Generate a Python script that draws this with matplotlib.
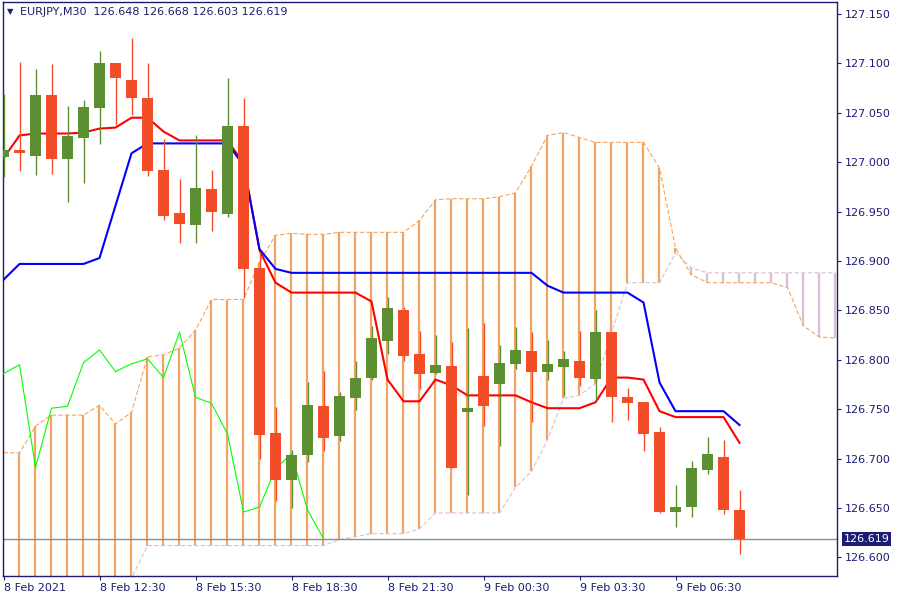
import matplotlib
matplotlib.use("Agg")
import matplotlib.pyplot as plt
import matplotlib.transforms as mtransforms
import numpy as np

# ---------------- data ----------------
opens = [127.005, 127.012, 127.006, 127.068, 127.003, 127.024, 127.055, 127.100, 127.083, 127.065,
         126.992, 126.949, 126.936, 126.973, 126.948, 127.037, 126.893, 126.726, 126.678, 126.704,
         126.753, 126.723, 126.761, 126.782, 126.819, 126.850, 126.806, 126.787, 126.794, 126.747,
         126.784, 126.776, 126.796, 126.809, 126.788, 126.793, 126.799, 126.781, 126.828, 126.762,
         126.757, 126.727, 126.646, 126.651, 126.688, 126.702, 126.648]
highs = [127.069, 127.101, 127.094, 127.099, 127.057, 127.063, 127.113, 127.100, 127.126, 127.100,
         127.023, 126.983, 127.028, 126.992, 127.085, 127.065, 126.909, 126.752, 126.709, 126.778,
         126.789, 126.767, 126.799, 126.834, 126.864, 126.853, 126.829, 126.825, 126.818, 126.832,
         126.837, 126.815, 126.833, 126.828, 126.820, 126.809, 126.829, 126.850, 126.828, 126.771,
         126.757, 126.732, 126.673, 126.698, 126.722, 126.719, 126.668]
lows = [126.985, 126.991, 126.987, 126.988, 126.960, 126.979, 127.018, 127.038, 127.048, 126.986,
        126.941, 126.918, 126.918, 126.930, 126.945, 126.863, 126.700, 126.657, 126.650, 126.697,
        126.708, 126.718, 126.749, 126.780, 126.806, 126.799, 126.770, 126.786, 126.690, 126.663,
        126.733, 126.713, 126.791, 126.737, 126.780, 126.763, 126.773, 126.759, 126.737, 126.739,
        126.708, 126.645, 126.631, 126.641, 126.684, 126.644, 126.603]
closes = [127.012, 127.009, 127.068, 127.003, 127.026, 127.056, 127.100, 127.085, 127.065, 126.991,
          126.946, 126.937, 126.974, 126.950, 127.037, 126.892, 126.724, 126.678, 126.704, 126.754,
          126.721, 126.763, 126.782, 126.822, 126.852, 126.804, 126.786, 126.795, 126.691, 126.751,
          126.753, 126.797, 126.810, 126.788, 126.796, 126.801, 126.782, 126.828, 126.762, 126.756,
          126.725, 126.646, 126.651, 126.690, 126.705, 126.648, 126.619]

tenkan = [127.004, 127.027, 127.029, 127.029, 127.029, 127.030, 127.034, 127.035, 127.045, 127.045,
          127.031, 127.022, 127.022, 127.022, 127.022, 126.999, 126.911, 126.878, 126.868, 126.868,
          126.868, 126.868, 126.868, 126.859, 126.780, 126.758, 126.758, 126.780, 126.774, 126.764,
          126.764, 126.764, 126.764, 126.757, 126.751, 126.751, 126.751, 126.757, 126.782, 126.782,
          126.780, 126.748, 126.742, 126.742, 126.742, 126.742, 126.716]
kijun = [126.881, 126.897, 126.897, 126.897, 126.897, 126.897, 126.903, 126.956, 127.009, 127.019,
         127.019, 127.019, 127.019, 127.019, 127.019, 126.997, 126.912, 126.892, 126.888, 126.888,
         126.888, 126.888, 126.888, 126.888, 126.888, 126.888, 126.888, 126.888, 126.888, 126.888,
         126.888, 126.888, 126.888, 126.888, 126.875, 126.868, 126.868, 126.868, 126.868, 126.868,
         126.858, 126.777, 126.748, 126.748, 126.748, 126.748, 126.734]
span_a = [126.706, 126.706, 126.733, 126.744, 126.744, 126.744, 126.754, 126.735, 126.747, 126.803,
          126.805, 126.812, 126.830, 126.861, 126.861, 126.861, 126.899, 126.926, 126.928, 126.927,
          126.927, 126.929, 126.929, 126.929, 126.929, 126.929, 126.941, 126.962, 126.963, 126.963,
          126.963, 126.965, 126.969, 126.996, 127.027, 127.030, 127.025, 127.020, 127.020, 127.020,
          127.020, 126.994, 126.913, 126.886, 126.878, 126.878, 126.878, 126.878, 126.878, 126.873,
          126.834, 126.823, 126.822]
span_b = [126.570, 126.570, 126.570, 126.570, 126.570, 126.570, 126.570, 126.570, 126.579, 126.612,
          126.612, 126.612, 126.612, 126.612, 126.612, 126.612, 126.612, 126.612, 126.612, 126.612,
          126.612, 126.618, 126.621, 126.624, 126.624, 126.624, 126.629, 126.645, 126.645, 126.645,
          126.645, 126.645, 126.671, 126.687, 126.719, 126.761, 126.764, 126.776, 126.827, 126.878,
          126.878, 126.878, 126.908, 126.893, 126.888, 126.888, 126.888, 126.888, 126.888, 126.888,
          126.888, 126.888, 126.888]
chikou_shift = 26

x_tick_bars = [0, 6, 12, 18, 24, 30, 36, 42]
x_tick_labels = ["8 Feb 2021", "8 Feb 12:30", "8 Feb 15:30", "8 Feb 18:30",
                 "8 Feb 21:30", "9 Feb 00:30", "9 Feb 03:30", "9 Feb 06:30"]
price_ticks = [127.150, 127.100, 127.050, 127.000, 126.950, 126.900,
               126.850, 126.800, 126.750, 126.700, 126.650, 126.600]
symbol = "EURJPY,M30"
last_price = closes[-1]

# ---------------- style ----------------
navy = "#1c1c72"
bull = "#5b8f32"
bear = "#f24d27"
sandy = "#f4a460"
thistle = "#d8bfd8"
font = "DejaVu Sans"

fig = plt.figure(figsize=(9, 6), dpi=100)
ax = fig.add_axes([2.5 / 900, 24 / 600, 834 / 900, 574 / 600])
ax.set_xlim(-0.0625, 52.06)
ax.set_ylim(126.5812, 127.1621)

# cloud hatching
ia = np.arange(len(span_a))
for i in ia:
    a, b = span_a[i], span_b[i]
    col = sandy if a >= b else thistle
    ax.vlines(i - 0.04, min(a, b), max(a, b), color=col, lw=1.6, zorder=1)
ax.plot(ia, span_a, color=sandy, lw=0.8, dashes=(4, 2), zorder=2)
ax.plot(ia, span_b, color=thistle, lw=0.8, dashes=(4, 2), zorder=2)

# current price line
ax.axhline(last_price, color="#8290a0", lw=1.0, zorder=2.5)

idx = np.arange(len(opens))
ax.plot(idx, tenkan, color="#ff0000", lw=1.5, zorder=3)
ax.plot(idx, kijun, color="#0000ff", lw=1.5, zorder=3)
cl = np.array(closes)
ax.plot(idx[chikou_shift:] - chikou_shift, cl[chikou_shift:], color="#00ff00", lw=0.8, zorder=3)

# candles
for i in idx:
    o, h, l, c = opens[i], highs[i], lows[i], closes[i]
    col = bull if c >= o else bear
    ax.vlines(i, l, h, color=col, lw=1.0, zorder=4)
    ax.bar(i, abs(c - o), bottom=min(o, c), width=0.6875, color=col, lw=0, zorder=5)

# axes styling
for s in ax.spines.values():
    s.set_color(navy)
    s.set_linewidth(1.0)
ax.yaxis.tick_right()
ax.set_yticks(price_ticks)
ax.set_yticklabels([f"{p:.3f}" for p in price_ticks], fontfamily=font)
ax.tick_params(axis="y", direction="out", length=3, width=0.8, colors=navy, labelsize=8, pad=3)
ax.set_xticks(x_tick_bars)
ax.set_xticklabels(x_tick_labels, ha="left", fontfamily=font)
ax.tick_params(axis="x", direction="out", length=3, width=0.8, colors=navy, labelsize=8, pad=2)

# current price box
trans = mtransforms.blended_transform_factory(ax.transAxes, ax.transData)
ax.text(1.0 + 7 / 834, last_price, f"{last_price:.3f}", transform=trans, ha="left", va="center",
        color="white", fontsize=8, fontfamily=font, zorder=10, clip_on=False,
        bbox=dict(boxstyle="square,pad=0.18", fc=navy, ec="none"))

# header
fig.text(7 / 900, 1 - 12 / 600, "\u25bc", fontsize=6, color=navy, va="center", ha="left", fontfamily=font)
fig.text(20 / 900, 1 - 12 / 600,
         f"{symbol}  {opens[-1]:.3f} {highs[-1]:.3f} {lows[-1]:.3f} {closes[-1]:.3f}",
         fontsize=8, color=navy, va="center", ha="left", fontfamily=font)

fig.savefig("out.png", dpi=100)
